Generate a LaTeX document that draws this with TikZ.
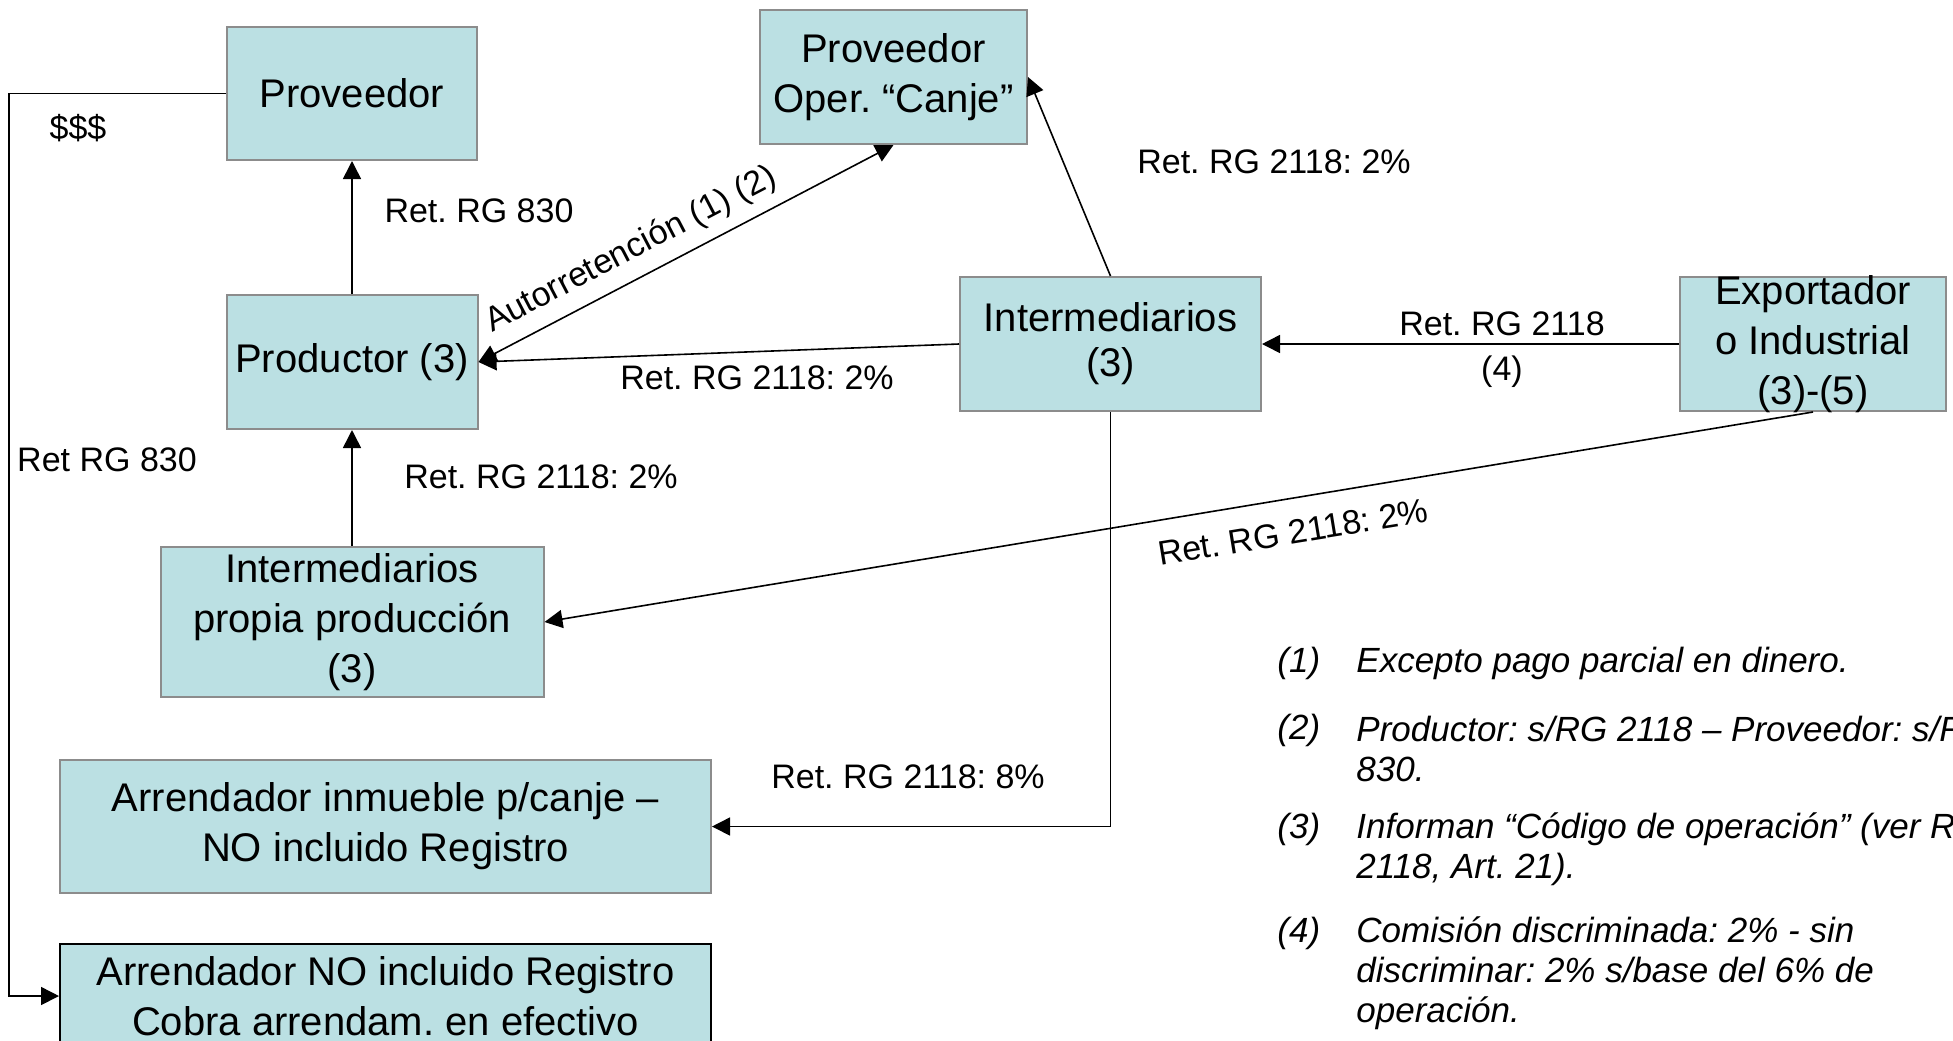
\documentclass[tikz,border=0pt]{standalone}
\usepackage{fontspec}
\setmainfont{Liberation Sans}
\usepackage{xcolor}
\usetikzlibrary{positioning,arrows.meta}
\definecolor{boxfill}{HTML}{BBE0E3}
\definecolor{boxline}{HTML}{8C8C8C}
\frenchspacing

\begin{document}
\begin{tikzpicture}[x=0.5pt, y=-0.5pt,
    box/.style={draw=boxline, line width=1pt, fill=boxfill, rectangle, align=center, inner sep=0pt, font=\fontsize{20}{25}\selectfont},
    lbl/.style={inner sep=0pt, align=center, font=\fontsize{17}{22.5}\selectfont},
    note/.style={inner sep=0pt, anchor=west, align=left, font=\fontsize{17.5}{20}\selectfont\itshape},
    arr/.style={-{Triangle[length=9pt,width=9pt]}, line width=0.8pt}]
  \clip (0,0) rectangle (1953,1040);

  % Productor column
  \node [box, minimum width=125pt, minimum height=66.5pt] (proveedor) at (352,93.5) {Proveedor};
  \node [box, minimum width=125.5pt, minimum height=67pt, below=66.5pt of proveedor] (productor) {Productor (3)};
  \node [box, minimum width=191.5pt, minimum height=75pt, below=58pt of productor] (propia) {Intermediarios\\propia producción\\(3)};

  % Canje and intermediarios
  \node [box, minimum width=133.5pt, minimum height=67pt] (canje) at (893.5,77) {Proveedor\\Oper. “Canje”};
  \node [box, minimum width=150.5pt, minimum height=67pt, font=\fontsize{20}{22.5}\selectfont] (interm) at (1110.5,344) {Intermediarios\\(3)};
  \node [box, minimum width=133pt, minimum height=67pt, inner ysep=-1pt, right=208.5pt of interm] (export) {Exportador\\o Industrial\\(3)-(5)};

  % Arrendadores
  \node [box, minimum width=325.5pt, minimum height=66.5pt] (inmueble) at (385.5,826.5) {Arrendador inmueble p/canje –\\NO incluido Registro};
  \node [box, draw=black, minimum width=325.5pt, minimum height=52pt, below=24.5pt of inmueble] (noinc) {Arrendador NO incluido Registro\\Cobra arrendam. en efectivo};

  % Arrows
  \draw [arr] (productor) -- (proveedor);
  \draw [arr] (propia) -- (productor);
  \draw [arr, {Triangle[length=9pt,width=9pt]}-{Triangle[length=9pt,width=9pt]}] (productor.east) -- (canje.south);
  \draw [arr] (interm.west) -- (productor.east);
  \draw [arr] (interm.north) -- (canje.east);
  \draw [arr] (export.west) -- (interm.east);
  \draw [arr] (export.south) -- (propia.east);
  \draw [arr] (interm.south) |- (inmueble.east);
  \draw [arr] (proveedor.west) -- ++(-217,0) |- (noinc.west);

  % Labels
  \node [lbl] (pesos) at (78,128) {\$\$\$};
  \node [lbl] (ret830a) at (107,460) {Ret RG 830};
  \node [lbl] (ret830b) at (479,211) {Ret. RG 830};
  \node [lbl, rotate=27.6] (auto) at (631,250) {Autorretención (1) (2)};
  \node [lbl] (retprod) at (757,378) {Ret. RG 2118: 2\%};
  \node [lbl] (retcanje) at (1274,162) {Ret. RG 2118: 2\%};
  \node [lbl] (retexp) at (1502,350) {Ret. RG 2118\\(4)};
  \node [lbl] (retpropia) at (541,477) {Ret. RG 2118: 2\%};
  \node [lbl, rotate=9.3] (retdiag) at (1293,532) {Ret. RG 2118: 2\%};
  \node [lbl] (retinm) at (908,777) {Ret. RG 2118: 8\%};

  % Notes
  \node [note] (n1) at (1277,663) {(1)};
  \node [note] (t1) at (1356,663) {Excepto pago parcial en dinero.};
  \node [note] (n2) at (1277,730) {(2)};
  \node [note] (t2) at (1356,749) {Productor: s/RG 2118 – Proveedor: s/RG\\830.};
  \node [note] (n3) at (1277,829) {(3)};
  \node [note] (t3) at (1356,849.5) {Informan “Código de operación” (ver RG\\2118, Art. 21).};
  \node [note] (n4) at (1277,933) {(4)};
  \node [note] (t4) at (1356,973) {Comisión discriminada: 2\% - sin\\discriminar: 2\% s/base del 6\% de\\operación.};
\end{tikzpicture}
\end{document}
